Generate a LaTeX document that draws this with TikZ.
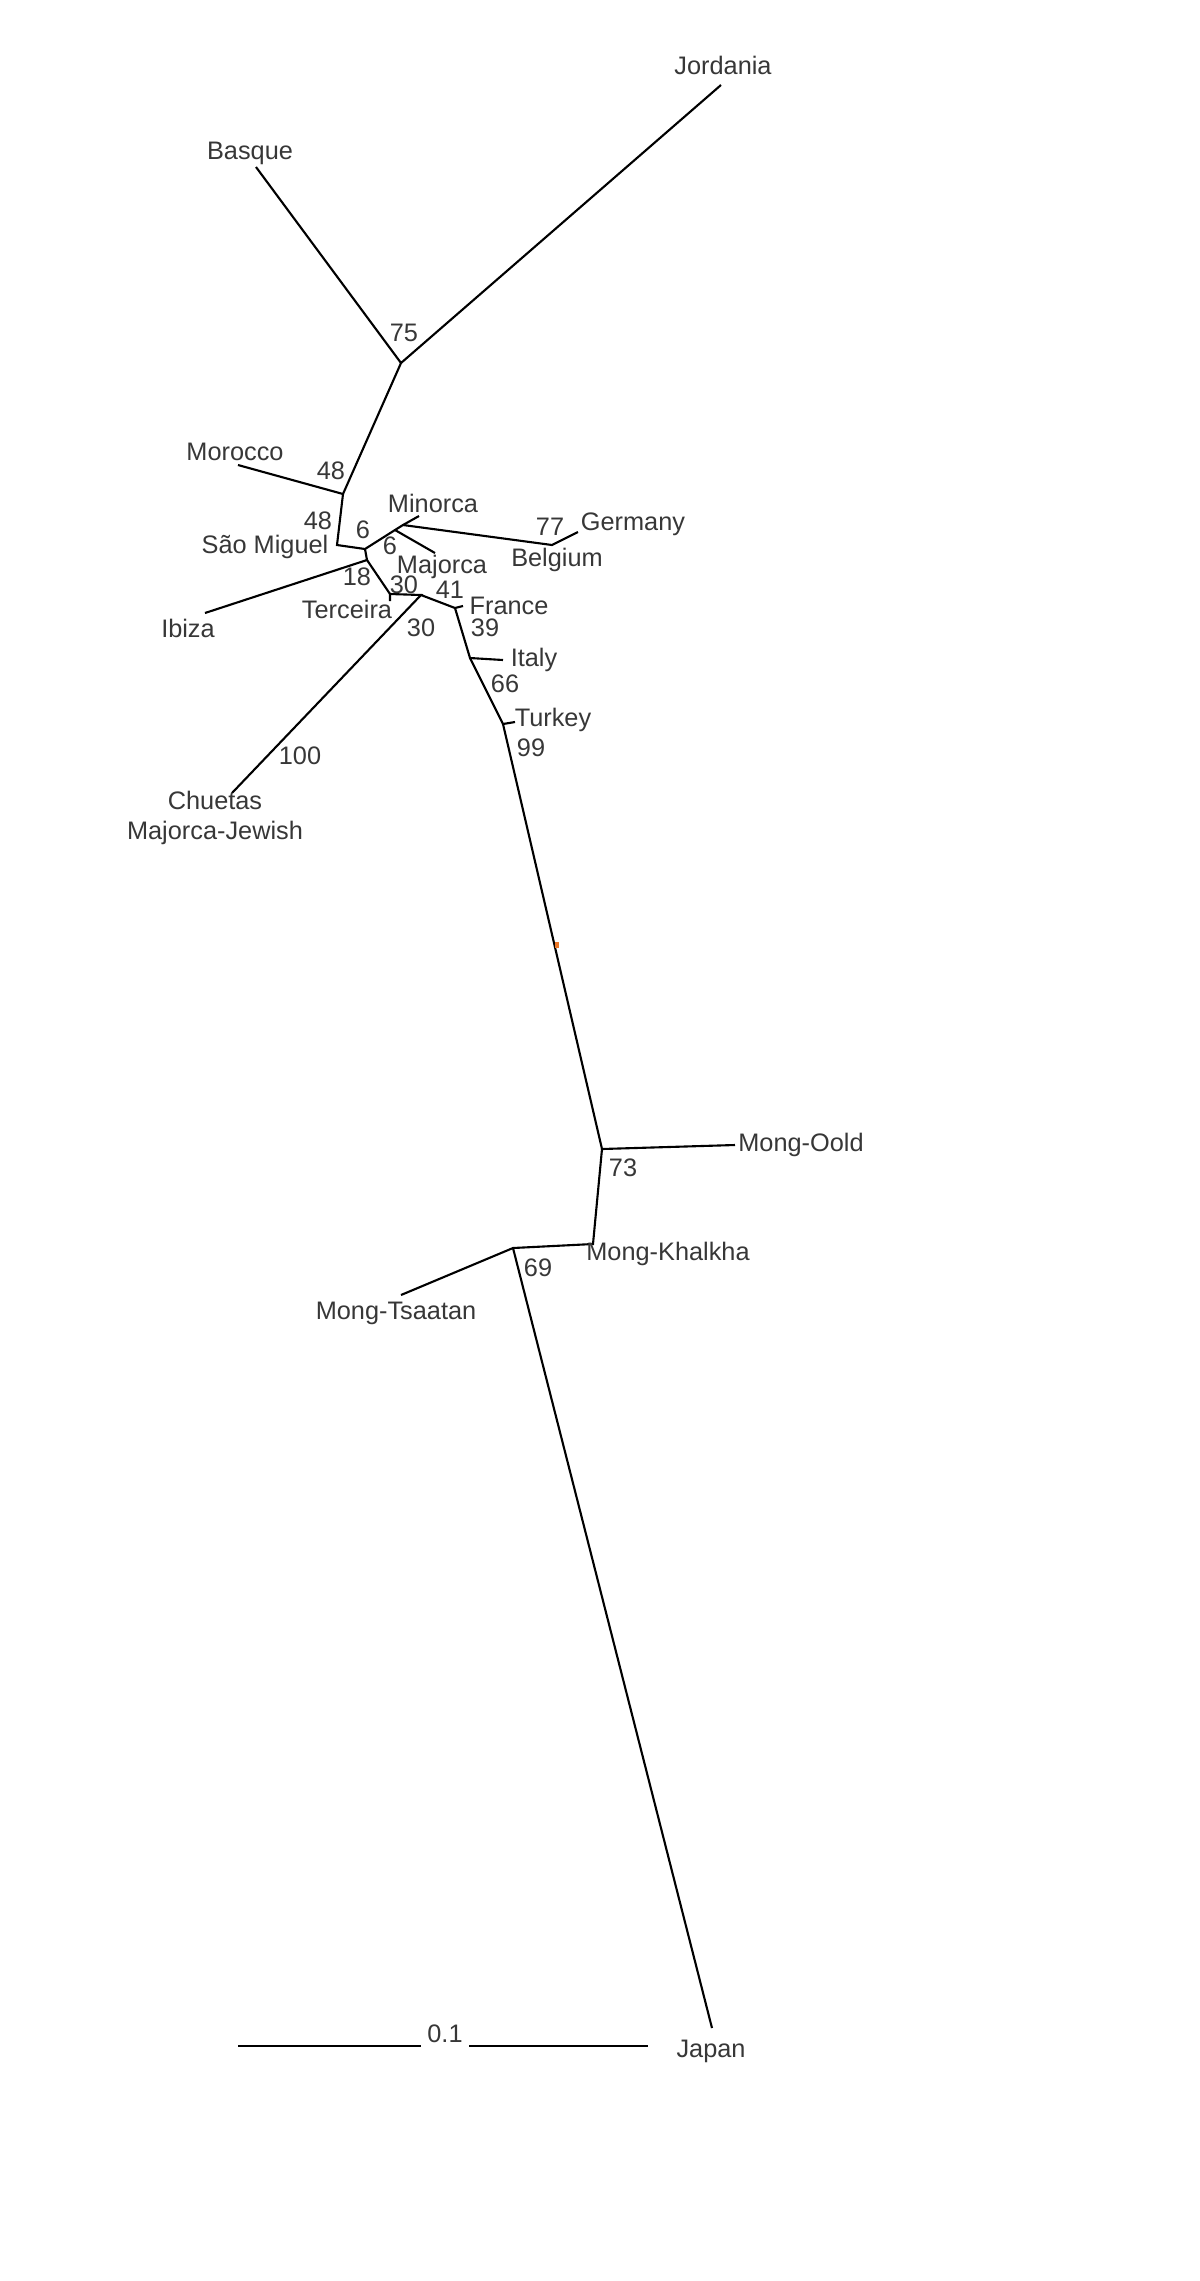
\documentclass[tikz,border=0pt]{standalone}
\usepackage{fontspec}
\setmainfont{Liberation Sans}
\usetikzlibrary{positioning}
\definecolor{labelgrey}{RGB}{55,55,55}
\definecolor{speck}{RGB}{235,120,40}

\tikzset{
  branch/.style={draw=black, line width=0.6pt},
  taxon/.style={inner sep=0pt, text=labelgrey, font=\fontsize{7.2}{8}\selectfont},
  boot/.style={taxon},
}

\begin{document}
\begin{tikzpicture}[x=0.01cm, y=-0.01cm]
  \useasboundingbox (0,0) rectangle (1200,2281);

  % inner nodes of the tree
  \coordinate (n75) at (401,363);
  \coordinate (nMor) at (343,494);
  \coordinate (nSM) at (337,545);
  \coordinate (nA) at (365,549);
  \coordinate (nB) at (367,560);
  \coordinate (nC) at (395,530);
  \coordinate (nCp) at (403,525);
  \coordinate (nBel) at (552,545);
  \coordinate (nTer) at (390,594);
  \coordinate (nE) at (421,595);
  \coordinate (nFra) at (455,608);
  \coordinate (nIta) at (470,658);
  \coordinate (nTur) at (503,724);
  \coordinate (n73) at (602,1149);
  \coordinate (nKha) at (593,1244);
  \coordinate (n69) at (513,1248);

  % tips
  \coordinate (jorT) at (721,85);
  \coordinate (basT) at (256,167);
  \coordinate (morT) at (238,465);
  \coordinate (minT) at (419,516);
  \coordinate (gerT) at (578,532);
  \coordinate (majT) at (435,553);
  \coordinate (ibiT) at (205,613);
  \coordinate (terT) at (390,601);
  \coordinate (chuT) at (232,793);
  \coordinate (fraT) at (463,606);
  \coordinate (itaT) at (503,660);
  \coordinate (turT) at (515,722);
  \coordinate (ooldT) at (735,1145);
  \coordinate (tsaT) at (401,1295);
  \coordinate (japT) at (712,2028);

  % branches
  \draw[branch] (jorT) -- (n75) -- (basT);
  \draw[branch] (n75) -- (nMor) -- (morT);
  \draw[branch] (nMor) -- (nSM) -- (nA) -- (nC) -- (nCp) -- (minT);
  \draw[branch] (nCp) -- (nBel) -- (gerT);
  \draw[branch] (nC) -- (majT);
  \draw[branch] (nA) -- (nB) -- (ibiT);
  \draw[branch] (nB) -- (nTer) -- (terT);
  \draw[branch] (nTer) -- (nE) -- (chuT);
  \draw[branch] (nE) -- (nFra) -- (fraT);
  \draw[branch] (nFra) -- (nIta) -- (itaT);
  \draw[branch] (nIta) -- (nTur) -- (turT);
  \draw[branch] (nTur) -- (n73) -- (ooldT);
  \draw[branch] (n73) -- (nKha) -- (n69) -- (tsaT);
  \draw[branch] (n69) -- (japT);
  \fill[speck] (555,942) rectangle (559,948);

  % taxa
  \node[taxon] (jor) at (723,65) {Jordania};
  \node[taxon] (bas) at (250,153) {Basque};
  \node[taxon] (mor) at (235,452) {Morocco};
  \node[taxon] (min) at (433,503) {Minorca};
  \node[taxon] (ger) at (633,524) {Germany};
  \node[taxon] (sm) at (265,547) {São Miguel};
  \node[taxon] (maj) at (442,567) {Majorca};
  \node[taxon] (bel) at (557,560) {Belgium};
  \node[taxon] (ter) at (347,609) {Terceira};
  \node[taxon] (fra) at (509,606) {France};
  \node[taxon] (ibi) at (188,628) {Ibiza};
  \node[taxon] (ita) at (534,660) {Italy};
  \node[taxon] (tur) at (553,720) {Turkey};
  \node[taxon, align=center] (chu) at (215,818) {Chuetas\\[0.6pt]Majorca-Jewish};
  \node[taxon] (oold) at (801,1145) {Mong-Oold};
  \node[taxon] (kha) at (668,1254) {Mong-Khalkha};
  \node[taxon] (tsa) at (396,1313) {Mong-Tsaatan};
  \node[taxon] (jap) at (711,2051) {Japan};

  % bootstrap values
  \node[boot] (b75) at (404,333) {75};
  \node[boot] (b48a) at (331,471) {48};
  \node[boot] (b48b) at (318,521) {48};
  \node[boot] (b6a) at (363,530) {6};
  \node[boot] (b6b) at (390,546) {6};
  \node[boot] (b77) at (550,527) {77};
  \node[boot] (b18) at (357,577) {18};
  \node[boot] (b30a) at (404,585) {30};
  \node[boot] (b41) at (450,590) {41};
  \node[boot] (b30b) at (421,628) {30};
  \node[boot] (b39) at (485,628) {39};
  \node[boot] (b66) at (505,684) {66};
  \node[boot] (b99) at (531,748) {99};
  \node[boot] (b100) at (300,756) {100};
  \node[boot] (b73) at (623,1168) {73};
  \node[boot] (b69) at (538,1268) {69};

  % scale bar
  \coordinate (sbL) at (238,2046);
  \coordinate (sbA) at (421,2046);
  \coordinate (sbB) at (469,2046);
  \coordinate (sbR) at (648,2046);
  \draw[branch] (sbL) -- (sbA);
  \draw[branch] (sbB) -- (sbR);
  \node[taxon] (scale) at (445,2034) {0.1};
\end{tikzpicture}
\end{document}
